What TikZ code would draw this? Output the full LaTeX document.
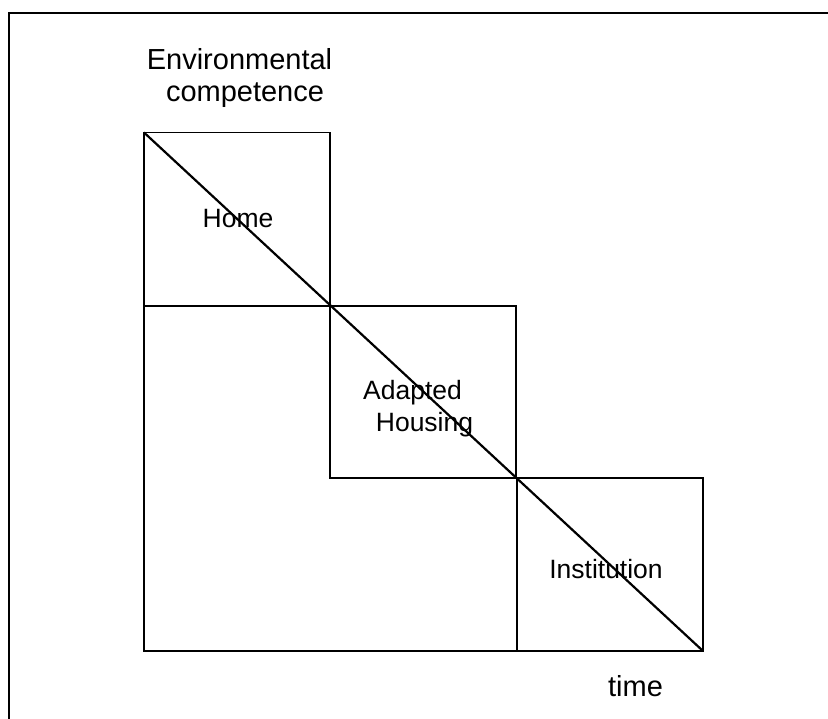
\documentclass[tikz,border=0pt]{standalone}
\usepackage{fontspec}
\setmainfont{Liberation Sans}
\begin{document}
\begin{tikzpicture}[x=1pt,y=-1pt,
  stage/.style={draw, line width=1.9pt, inner sep=0pt, outer sep=0pt, anchor=north west},
  lbl/.style={inner sep=0pt, anchor=base, font=\fontsize{26.5}{30}\selectfont},
  axislbl/.style={inner sep=0pt, anchor=base, font=\fontsize{29}{33}\selectfont}]
  \useasboundingbox (0,0) rectangle (828,719);
  \fill[white] (0,0) rectangle (828,719);

  % outer frame (open towards the right and bottom edges)
  \coordinate (frameBL) at (8.5,719);
  \coordinate (frameTL) at (8.5,13);
  \coordinate (frameTR) at (828,13);
  \draw[line width=2pt] (frameBL) -- (frameTL) -- (frameTR);

  % the three stages
  \node[stage, minimum width=186pt, minimum height=173.5pt] (home) at (144,132.5) {};
  \node[stage, minimum width=186pt, minimum height=172pt] (adapted) at (330,306) {};
  \node[stage, minimum width=186pt, minimum height=173pt] (inst) at (517,478) {};

  % lower left outline closing the staircase
  \draw[line width=1.9pt] (home.south west) -- (home.south west |- inst.south west) -- (inst.south west);

  % competence declining over time
  \draw[line width=2.2pt] (home.north west) -- (inst.south east);

  % labels
  \node[axislbl] (envA) at (239.5,69.5) {Environmental};
  \node[axislbl] (envB) at (245,101.5) {competence};
  \node[axislbl] (time) at (635.5,696) {time};
  \node[lbl] (homeL) at (238,228) {Home};
  \node[lbl] (adaptA) at (412.5,400) {Adapted};
  \node[lbl] (adaptB) at (424.5,431.5) {Housing};
  \node[lbl] (instL) at (606,578) {Institution};
\end{tikzpicture}
\end{document}
